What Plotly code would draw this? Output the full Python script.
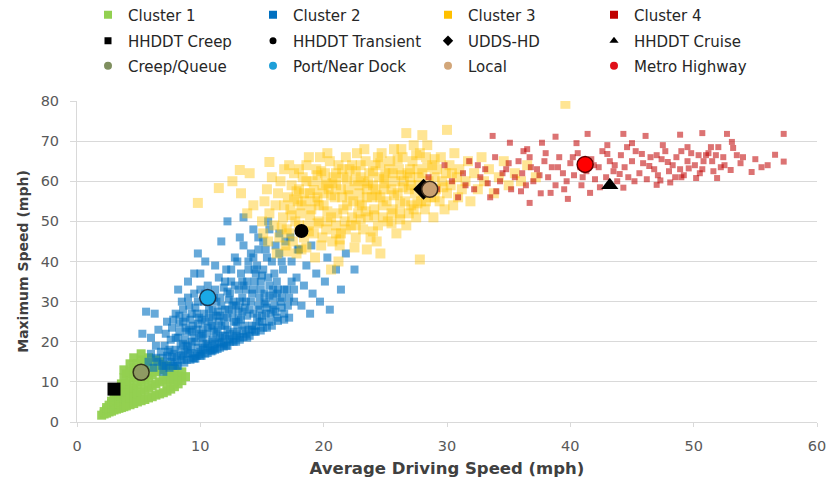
import plotly.graph_objects as go

# ---------------- data ----------------
cluster1_pts = [
    (2.0, 1.7), (2.2, 2.0), (2.2, 2.6), (2.4, 2.2), (2.4, 3.0), (2.4, 3.6),
    (2.6, 2.5), (2.6, 3.3), (2.6, 4.2), (2.8, 2.7), (2.8, 3.6), (2.8, 4.6), (2.8, 5.2),
    (3.0, 3.0), (3.0, 4.0), (3.0, 5.0), (3.0, 5.8), (3.2, 3.2), (3.2, 4.3), (3.2, 5.5), (3.2, 6.5),
    (3.4, 3.4), (3.4, 4.6), (3.4, 6.0), (3.4, 7.4), (3.6, 3.6), (3.6, 5.0), (3.6, 6.5), (3.6, 8.0), (3.6, 9.5),
    (3.8, 3.8), (3.8, 5.3), (3.8, 7.0), (3.8, 9.0), (3.8, 11.0), (3.8, 13.0),
    (4.0, 4.0), (4.0, 5.6), (4.0, 7.5), (4.0, 9.5), (4.0, 12.0),
    (4.3, 4.3), (4.3, 6.0), (4.3, 8.0), (4.3, 10.2), (4.3, 12.5), (4.3, 14.5),
    (4.6, 4.6), (4.6, 6.4), (4.6, 8.5), (4.6, 11.0), (4.6, 13.5), (4.6, 16.0),
    (4.9, 5.0), (4.9, 7.0), (4.9, 9.3), (4.9, 11.8), (4.9, 14.5),
    (5.2, 5.3), (5.2, 7.5), (5.2, 10.0), (5.2, 15.5), (5.2, 17.0),
    (5.5, 5.6), (5.5, 8.0), (5.5, 10.5), (5.5, 13.0), (5.5, 15.0),
    (5.8, 6.0), (5.8, 8.5), (5.8, 11.0), (5.8, 13.5), (5.8, 16.0),
    (6.1, 6.3), (6.1, 9.0), (6.1, 11.8), (6.1, 14.5), (6.4, 6.7), (6.4, 9.5), (6.4, 12.5), (6.4, 15.5),
    (6.7, 7.0), (6.7, 10.0), (6.7, 13.0), (6.7, 15.0), (7.0, 7.3), (7.0, 10.5), (7.0, 13.5),
    (7.3, 7.7), (7.3, 9.5), (7.3, 11.5), (7.3, 14.0), (7.6, 8.2), (7.6, 10.5), (7.6, 12.5),
    (7.9, 8.8), (7.9, 11.0), (7.9, 13.2), (8.2, 9.5), (8.2, 11.5), (8.5, 10.3), (8.5, 12.5), (8.8, 11.3),
]

cluster2_pts = [
    (5.5, 13), (5.8, 15), (6.0, 17), (6.2, 13.5), (6.4, 19), (6.5, 15), (5.3, 22), (5.6, 27.5),
    (6.3, 27), (6.6, 23), (6.0, 21), (7.0, 12.5), (7.0, 16), (7.1, 19), (7.2, 22), (6.9, 14),
    (7.3, 25), (7.4, 17.5), (7.5, 13.5), (7.6, 20.5), (7.7, 23.5), (7.9, 15), (8.0, 18), (8.0, 27),
    (8.1, 14), (8.2, 21), (8.3, 24.5), (8.4, 16.5), (8.5, 30), (8.6, 19.5), (8.7, 14.8), (8.8, 26),
    (8.9, 22.5), (8.2, 33), (9.0, 17), (9.1, 29), (9.2, 15.5), (9.3, 20), (9.4, 24), (9.5, 32),
    (9.6, 15.8), (9.7, 27), (9.8, 18.5), (9.9, 22), (9.0, 35), (9.8, 42), (9.5, 37),
    (10.0, 16.5), (10.1, 25.5), (10.2, 19.5), (10.3, 30), (10.4, 17), (10.5, 22), (10.6, 34),
    (10.7, 28), (10.8, 18), (10.9, 24), (10.0, 37), (10.4, 40), (10.9, 17.6), (10.2, 21),
    (11.0, 20.5), (11.1, 31), (11.2, 18), (11.3, 26.5), (11.4, 23), (11.5, 36), (11.6, 18.5),
    (11.7, 29), (11.8, 21.5), (11.9, 33.5), (11.2, 39), (11.7, 45), (11.5, 25), (11.9, 18.8), (11.0, 28),
    (12.0, 24), (12.1, 38), (12.2, 19), (12.3, 30.5), (12.4, 22), (12.5, 35), (12.6, 27), (12.7, 20),
    (12.8, 41), (12.9, 25), (12.2, 50), (12.4, 32), (12.6, 20.5), (12.9, 29),
    (13.0, 22), (13.1, 33), (13.2, 20.5), (13.3, 37), (13.4, 27.5), (13.5, 44), (13.6, 24), (13.7, 30),
    (13.8, 21), (13.9, 40), (13.5, 51), (13.2, 46), (13.8, 35), (13.1, 26),
    (14.0, 28), (14.1, 42), (14.2, 23), (14.3, 33), (14.4, 22.5), (14.5, 37), (14.6, 26), (14.7, 46),
    (14.8, 31), (14.9, 22.8), (14.3, 48), (14.6, 39), (14.9, 35),
    (15.0, 25), (15.2, 30), (15.3, 43), (15.4, 23.5), (15.5, 36), (15.6, 48), (15.7, 27), (15.8, 40),
    (15.9, 33), (15.1, 38), (15.5, 50), (15.8, 24),
    (16.0, 29), (16.2, 35), (16.3, 25.2), (16.4, 42), (16.6, 31), (16.7, 38), (16.8, 27), (16.9, 45), (16.4, 47),
    (17.0, 33), (17.2, 26), (17.4, 40), (17.6, 30), (17.8, 36), (17.9, 43), (17.3, 46),
    (18.2, 29), (18.4, 34), (18.6, 39), (18.9, 27), (19.1, 32), (19.4, 37), (19.7, 30), (20.1, 35),
    (20.5, 28), (21.0, 38), (21.4, 33), (18.0, 43), (19.0, 44), (20.3, 41), (16.8, 25.5),
    (22.5, 38), (21.8, 42),
    (8.5, 15.5), (9.0, 19), (9.5, 21), (10.0, 17.5), (10.5, 19.5), (11.0, 17.8), (11.5, 20), (12.0, 21.5),
    (8.0, 21), (9.2, 25.5), (10.3, 27), (11.3, 22), (12.2, 26), (13.0, 24), (7.5, 18), (6.8, 17.5),
    (6.4, 16), (7.8, 14), (9.5, 15.8),
    (7.0, 14.5), (7.3, 16.5), (7.6, 15), (7.9, 17), (8.2, 14), (8.4, 19), (8.7, 17.5), (8.9, 15.5),
    (9.2, 18), (9.4, 16), (9.6, 20), (9.9, 17), (10.1, 16.5), (10.4, 18.5), (10.6, 17.2), (10.9, 20),
    (11.1, 18.5), (11.4, 18.2), (11.6, 21), (11.9, 19.5), (12.1, 19), (12.4, 20), (12.7, 22.5), (12.9, 20),
    (13.2, 21), (13.5, 21.2), (13.7, 22), (14.0, 21.5), (14.2, 24), (14.5, 22.5), (14.8, 25), (15.1, 23.5),
    (15.3, 27), (15.6, 25), (15.9, 28), (16.2, 26), (16.5, 30), (16.8, 33), (17.1, 29), (17.4, 35),
    (9.3, 22.5), (9.8, 24.5), (10.2, 23), (10.7, 26), (11.0, 24), (11.4, 27.5), (11.9, 26), (12.3, 28),
    (12.7, 30), (13.1, 28), (13.4, 31), (13.7, 33), (14.1, 30), (14.4, 35), (14.8, 28), (15.2, 32),
    (15.6, 34), (16.0, 37), (16.3, 33), (16.6, 40), (10.6, 31), (11.2, 33), (11.6, 31), (12.0, 35),
    (12.5, 38), (13.0, 40), (13.4, 35), (13.9, 38), (14.3, 41), (14.7, 43), (15.1, 45), (15.4, 41),
    (16.1, 44), (9.6, 28.5), (8.6, 28), (9.0, 31), (10.0, 33), (8.3, 26.5), (7.8, 25.5), (8.8, 23.5),
    (7.2, 14), (7.7, 16.2), (8.1, 16), (8.6, 16.8), (8.9, 18.8), (9.3, 17.2), (9.7, 16.5), (10.2, 18),
    (10.6, 19), (11.2, 19.5), (11.7, 19.8), (12.3, 20.8), (12.9, 21.5), (13.4, 22.8), (13.9, 23), (14.5, 24),
    (15.0, 26.5), (15.4, 28.5), (16.1, 27.5), (16.6, 28.5), (17.2, 31), (17.6, 33), (8.3, 22.5), (8.8, 20.5),
    (9.1, 23), (9.7, 23), (10.1, 21.5), (10.6, 23.5), (11.1, 22.5), (11.7, 24), (12.2, 23), (12.7, 25),
    (13.3, 25.5), (13.8, 26.5), (14.3, 27), (14.7, 29), (15.3, 29.5), (15.9, 31), (8.6, 25), (9.3, 27),
    (9.9, 26), (10.4, 25), (11.0, 26), (11.6, 26.5), (12.0, 28), (12.6, 29), (13.2, 30), (13.6, 28.5),
    (14.2, 32), (14.9, 33), (15.6, 31.5), (16.2, 32), (9.8, 30), (10.4, 32), (11.3, 30), (12.2, 32.5),
    (12.8, 34), (13.5, 34), (14.4, 38), (15.0, 36.5),
]

cluster3_pts = [
    (12.6, 60), (13.3, 57), (14.0, 62), (14.3, 54), (13.8, 52), (9.8, 54.6), (11.5, 58.3), (13.2, 62.8),
    (15.6, 64.8), (26.7, 72.0),
    (15.0, 50), (15.2, 55), (15.4, 58), (15.1, 47), (15.6, 52), (15.8, 61), (15.5, 45),
    (16.0, 49), (16.1, 54), (16.3, 57), (16.4, 46), (16.5, 60), (16.7, 51), (16.8, 63), (16.9, 44), (16.2, 42),
    (17.0, 48), (17.1, 56), (17.3, 53), (17.4, 59), (17.5, 45), (17.6, 62), (17.7, 50), (17.9, 55), (17.2, 64), (17.8, 42),
    (18.0, 58), (18.1, 52), (18.3, 61), (18.4, 46), (18.5, 55), (18.6, 64), (18.7, 49), (18.9, 57), (18.2, 43), (18.8, 66),
    (19.0, 53), (19.1, 60), (19.2, 47), (19.4, 63), (19.5, 56), (19.6, 50), (19.7, 66), (19.8, 44), (19.9, 59), (19.3, 41),
    (20.0, 54), (20.1, 62), (20.2, 48), (20.4, 58), (20.5, 65), (20.6, 51), (20.7, 45), (20.8, 61), (20.9, 56), (20.3, 67), (20.6, 38),
    (21.0, 59), (21.1, 52), (21.2, 64), (21.4, 47), (21.5, 56), (21.6, 61), (21.7, 50), (21.8, 66), (21.9, 54), (21.3, 44), (21.2, 40),
    (22.0, 58), (22.1, 63), (22.2, 49), (22.4, 55), (22.5, 60), (22.6, 46), (22.7, 67), (22.8, 52), (22.9, 57), (22.3, 64),
    (23.0, 61), (23.1, 54), (23.2, 48), (23.4, 65), (23.5, 58), (23.6, 51), (23.7, 62), (23.8, 46), (23.9, 56), (23.3, 68),
    (24.0, 59), (24.1, 53), (24.2, 64), (24.4, 49), (24.5, 61), (24.6, 56), (24.7, 67), (24.8, 51), (24.9, 58), (24.6, 42), (24.3, 45),
    (25.0, 62), (25.1, 55), (25.2, 50), (25.4, 65), (25.5, 58), (25.6, 53), (25.7, 68), (25.8, 60), (25.9, 47), (25.3, 63),
    (26.0, 57), (26.1, 63), (26.2, 52), (26.4, 66), (26.5, 60), (26.6, 55), (26.7, 49), (26.8, 62), (26.9, 58), (26.3, 68),
    (27.0, 61), (27.1, 54), (27.2, 65), (27.4, 57), (27.5, 51), (27.6, 63), (27.7, 59), (27.8, 67), (27.9, 55), (27.8, 40.5), (27.3, 69),
    (28.0, 62), (28.2, 53), (28.3, 66), (28.5, 60), (28.7, 56), (28.8, 64), (28.9, 51), (28.4, 69),
    (29.1, 58), (29.2, 63), (29.4, 55), (29.5, 66), (29.6, 60), (29.8, 53), (29.9, 62),
    (30.0, 57), (30.2, 64), (30.3, 59), (30.5, 54), (30.6, 67), (30.8, 61), (30.9, 56),
    (31.0, 63), (31.2, 58), (31.5, 60), (31.7, 65), (31.9, 55), (32.2, 62), (32.5, 58), (32.8, 66),
    (33.0, 60), (33.4, 63), (33.8, 57), (34.2, 61), (34.6, 65), (35.0, 59), (35.5, 62), (36.0, 60),
    (36.5, 64), (37.2, 61),
    (28.0, 71.5), (30.0, 72.8), (39.6, 79.3),
    (16.6, 48.5), (17.4, 51.5), (18.2, 54), (18.9, 51.5), (19.6, 54), (20.3, 52.5), (21.0, 49), (21.6, 53),
    (22.3, 51), (22.9, 54.5), (23.6, 59.5), (24.3, 56.5), (25.0, 59.5), (25.7, 56.5), (26.4, 58.5), (27.1, 59),
    (19.5, 61.5), (20.2, 59.5), (21.0, 62), (21.9, 60.5), (22.6, 62.5), (23.3, 60), (24.0, 62.5), (24.6, 64.5),
    (17.8, 57.5), (18.6, 60), (19.2, 57.8), (20.6, 56.5), (23.0, 50.5), (24.0, 47.5), (25.5, 52), (26.2, 54.5),
    (27.3, 53), (28.1, 57.5), (19.9, 46), (21.3, 45.5), (22.5, 43.5), (23.5, 43), (18.6, 43.5), (17.0, 42.5),
    (16.8, 54), (17.6, 55.5), (18.4, 57), (19.3, 55), (20.0, 57), (20.7, 59.5), (21.4, 58), (22.1, 56.5),
    (22.8, 59), (23.5, 56), (24.2, 58), (24.9, 60.5), (25.6, 62), (26.3, 61.5), (27.0, 63), (27.7, 61),
    (28.4, 63.5), (29.0, 61), (29.7, 58.5), (30.4, 62), (17.2, 47), (18.0, 49), (18.8, 47.5), (19.5, 49.5),
    (20.3, 50), (21.0, 47), (21.8, 48), (22.6, 49), (23.4, 52.5), (24.1, 51.5), (24.8, 54), (25.5, 49.5),
    (26.2, 50.5), (26.9, 52), (27.6, 54.5), (28.3, 55), (29.0, 56), (19.8, 62.5), (21.5, 63), (23.0, 64),
    (24.4, 66), (26.0, 65.5), (27.5, 66.5), (29.0, 65.5), (18.0, 63),
]

cluster4_pts = [
    (33.7, 71.3), (35.1, 69.6), (37.7, 69.6), (38.8, 71.1), (41.4, 71.8), (44.3, 71.8), (46.1, 71.3),
    (48.9, 71.6), (50.7, 72.0), (52.7, 71.8), (57.3, 71.8), (53.1, 69.8), (53.2, 68.3), (54.0, 66.0),
    (56.6, 66.6), (57.3, 64.9), (54.7, 62.3), (51.9, 60.8), (36.7, 54.6), (39.8, 55.6), (38.4, 57.1),
    (41.6, 57.1), (44.3, 58.4), (48.1, 59.7), (47.0, 59.1), (49.5, 68.5), (47.5, 69.0), (45.0, 69.5),
    (43.0, 69.0), (40.5, 69.5), (36.5, 68.0), (55.5, 63.5), (52.5, 64.0), (53.5, 66.5), (50.5, 62.0), (49.0, 61.0),
    (28.5, 61), (29.2, 58), (29.8, 64), (30.4, 60), (30.9, 56), (31.3, 62), (31.8, 65), (32.2, 58),
    (32.7, 61), (33.1, 63), (33.5, 56), (33.9, 66), (34.3, 60), (34.8, 63),
    (35.2, 58), (35.5, 61), (35.8, 65), (36.1, 62), (36.4, 59), (36.7, 66), (37.0, 60), (37.3, 63),
    (37.6, 57), (37.9, 65), (38.2, 61), (38.5, 63.5), (38.8, 59), (39.1, 66), (39.4, 62),
    (39.7, 60), (40.0, 64.5), (40.3, 61.5), (40.6, 67), (40.9, 59), (41.3, 62.5), (41.7, 65.5), (42.0, 60.5),
    (42.3, 63.5), (42.6, 67.5), (42.9, 61), (43.2, 65), (43.5, 62.5), (43.8, 60), (44.1, 66.5),
    (44.4, 63.5), (44.7, 61), (45.0, 65), (45.3, 67.5), (45.6, 62), (45.9, 64.5), (46.2, 60.5), (46.5, 66),
    (46.8, 63), (47.1, 61.5), (47.4, 65.5), (47.7, 67.5), (48.0, 62.5), (48.3, 64),
    (48.6, 66), (48.9, 63), (49.2, 61.5), (49.5, 65), (49.8, 67), (50.1, 64), (50.4, 66.5), (50.7, 63),
    (51.0, 66.5), (51.2, 67), (51.5, 65), (51.8, 66.5), (52.2, 63.5), (52.0, 68.5),
    (34.5, 62), (35.0, 64.5), (36.0, 57.5), (36.8, 63.5), (37.5, 61.5), (38.0, 67), (39.0, 63.5), (39.5, 58),
    (40.2, 66), (40.8, 63.5), (41.0, 61), (41.9, 64), (42.4, 58.5), (43.0, 66.8), (43.6, 64), (44.0, 61.8),
    (44.6, 68.5), (45.2, 60), (45.8, 66.8), (46.4, 63.8), (47.0, 66.5), (47.3, 60.2), (47.9, 64.8), (48.5, 61),
    (49.0, 67.5), (49.6, 63.2), (50.2, 60.8), (50.8, 65), (51.4, 68.5), (51.6, 62.5), (52.4, 66), (53.0, 62.8),
    (53.8, 64.5), (55.0, 65.5), (56.0, 64), (31.5, 59), (32.5, 64), (33.3, 59.5), (34.0, 57.5), (36.2, 67.5),
]

cluster_names = ["Cluster 1", "Cluster 2", "Cluster 3", "Cluster 4"]
cluster_colors = ["#92D050", "#0070C0", "#FFC000", "#C00000"]

ref_names = ["HHDDT Creep", "HHDDT Transient", "UDDS-HD", "HHDDT Cruise",
             "Creep/Queue", "Port/Near Dock", "Local", "Metro Highway"]
ref_x = [3.0, 18.2, 28.1, 43.2, 5.2, 10.6, 28.6, 41.2]
ref_y = [8.2, 47.6, 58.0, 59.0, 12.4, 31.0, 58.0, 64.2]

# ---------------- styles ----------------
FONT = "'DejaVu Sans', sans-serif"
cluster_style = [
    dict(size=9, opacity=0.95),
    dict(size=8, opacity=0.6),
    dict(size=10, opacity=0.42),
    dict(size=6, opacity=0.55),
]
ref_style = [
    dict(symbol="square", size=13, color="#000000", line=dict(width=0)),
    dict(symbol="circle", size=14, color="#000000", line=dict(width=0)),
    dict(symbol="diamond", size=16, color="#000000", line=dict(width=0)),
    dict(symbol="triangle-up", size=15, color="#000000", line=dict(width=0)),
    dict(symbol="circle", size=16, color="#8E9B62", line=dict(width=1.5, color="#33331a")),
    dict(symbol="circle", size=16, color="#19A9E6", line=dict(width=1.5, color="#1a3550")),
    dict(symbol="circle", size=16, color="#C9A072", line=dict(width=1.5, color="#3b2a1a")),
    dict(symbol="circle", size=16, color="#FF0000", line=dict(width=1.5, color="#600000")),
]
legend_symbols = ["square"] * 4 + ["square", "circle", "diamond", "triangle-up"] + ["circle"] * 4
legend_colors = cluster_colors + ["#000000"] * 4 + ["#7F8F5F", "#1E9FD8", "#D2A679", "#E0101A"]
legend_sizes = [8] * 4 + [7, 7, 8, 8] + [8] * 4

fig = go.Figure()

for pts, name, col, st in zip([cluster1_pts, cluster2_pts, cluster3_pts, cluster4_pts],
                              cluster_names, cluster_colors, cluster_style):
    fig.add_trace(go.Scatter(
        x=[p[0] for p in pts], y=[p[1] for p in pts], mode="markers", name=name,
        showlegend=False, legendgroup=name,
        marker=dict(symbol="square", size=st["size"], color=col, opacity=st["opacity"], line=dict(width=0)),
        hoverinfo="skip"))

for i, name in enumerate(ref_names):
    st = ref_style[i]
    fig.add_trace(go.Scatter(
        x=[ref_x[i]], y=[ref_y[i]], mode="markers", name=name, showlegend=False, legendgroup=name,
        marker=dict(symbol=st["symbol"], size=st["size"], color=st["color"], line=st["line"])))

# legend entries (one small legend per entry so rows/columns match the original)
legend_names = cluster_names + ref_names
col_text_px = [128, 293, 468, 634]
row_px = [15, 41, 66]
PL, PW, PB, PH = 77, 740, 422, 321
layout_legends = {}
for i, name in enumerate(legend_names):
    key = "legend" if i == 0 else f"legend{i + 1}"
    r, c = divmod(i, 4)
    fig.add_trace(go.Scatter(
        x=[None], y=[None], mode="markers", name=name, legend=key, legendgroup=name,
        marker=dict(symbol=legend_symbols[i], size=legend_sizes[i], color=legend_colors[i])))
    layout_legends[key] = dict(
        x=(col_text_px[c] - 40 - PL) / PW, y=(PB - row_px[r]) / PH,
        xanchor="left", yanchor="middle", orientation="h",
        bgcolor="rgba(0,0,0,0)", borderwidth=0,
        font=dict(family=FONT, size=15, color="#262626"))

fig.update_layout(
    width=828, height=481,
    margin=dict(l=77, r=11, t=101, b=59, autoexpand=False),
    paper_bgcolor="white", plot_bgcolor="white",
    font=dict(family=FONT, size=14, color="#595959"),
    **layout_legends,
)
fig.update_xaxes(
    range=[0, 60], dtick=10, showgrid=False, zeroline=False,
    showline=True, linecolor="#D9D9D9", linewidth=1,
    ticks="outside", ticklen=4, tickcolor="#D9D9D9", ticklabelstandoff=7,
    tickfont=dict(family=FONT, size=14.5, color="#595959"),
    title=dict(text="<b>Average Driving Speed (mph)</b>", standoff=9,
               font=dict(family=FONT, size=16.5, color="#404040")))
fig.update_yaxes(
    range=[0, 80], dtick=10, showgrid=True, gridcolor="#D9D9D9", zeroline=False,
    showline=True, linecolor="#D9D9D9", linewidth=1,
    ticks="outside", ticklen=6, tickcolor="#D9D9D9", ticklabelstandoff=8,
    tickfont=dict(family=FONT, size=14.5, color="#595959"),
    title=dict(text="<b>Maximum Speed (mph)</b>", standoff=8,
               font=dict(family=FONT, size=14, color="#404040")))

fig.write_html("out.html")
